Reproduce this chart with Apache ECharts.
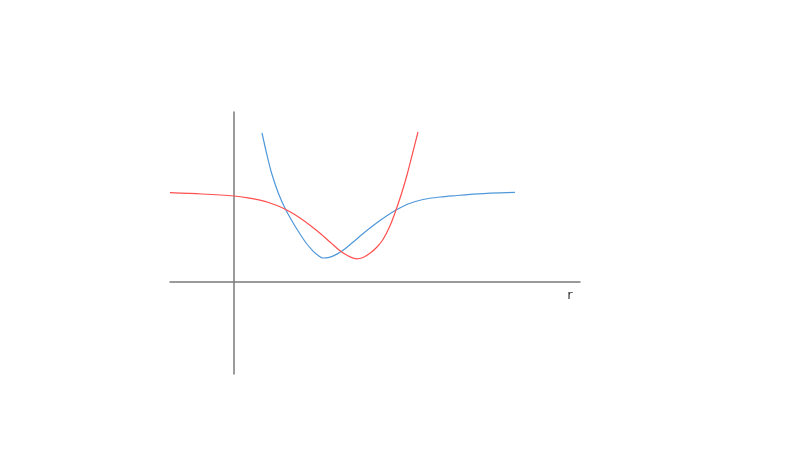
<!DOCTYPE html>
<html>
<head>
<meta charset="utf-8">
<script src="https://cdn.jsdelivr.net/npm/echarts@6/dist/echarts.min.js"></script>
<style>html,body{margin:0;padding:0;background:#fff;}#c{width:800px;height:450px;}</style>
</head>
<body>
<div id="c"></div>
<script>
// Blue curve (r, value)
const blueR = [0.70, 0.8125, 0.9425, 1.1075, 1.275, 1.45, 1.65, 1.8125, 1.9825, 2.10, 2.225, 2.35, 2.50, 2.65, 2.825, 3.025, 3.20, 3.40, 3.65, 3.85, 4.05, 4.35, 4.725, 5.15, 5.575, 5.975, 6.40, 7.025];
const blueV = [3.725, 3.225, 2.7125, 2.225, 1.8425, 1.525, 1.20, 0.9625, 0.7675, 0.6675, 0.60, 0.61, 0.66, 0.7425, 0.87, 1.0375, 1.1875, 1.35, 1.535, 1.675, 1.80, 1.95, 2.0625, 2.125, 2.1625, 2.195, 2.2225, 2.2425];
// Red curve (r, value)
const redR = [-1.6, -0.8, 0, 0.35, 0.65, 0.90, 1.15, 1.40, 1.65, 1.90, 2.15, 2.40, 2.65, 2.85, 3.0625, 3.225, 3.40, 3.575, 3.725, 3.90, 4.05, 4.20, 4.325, 4.45, 4.60];
const redV = [2.2325, 2.20, 2.15, 2.105, 2.045, 1.975, 1.8825, 1.755, 1.60, 1.42, 1.22, 1.00, 0.78, 0.655, 0.58, 0.6125, 0.7175, 0.875, 1.0625, 1.405, 1.80, 2.25, 2.675, 3.1625, 3.75];
const xName = 'r';

const chart = echarts.init(document.getElementById('c'), null, {renderer: 'canvas'});
const pair = (a, b) => a.map((v, i) => [v, b[i]]);
const axisLine = {show: true, onZero: true, lineStyle: {color: '#7a7a7a', width: 1.5}};
chart.setOption({
  backgroundColor: '#ffffff',
  animation: false,
  grid: {left: 170, right: 220, top: 112, bottom: 76, containLabel: false},
  xAxis: {
    type: 'value', min: -1.6, max: 8.65,
    name: xName, nameLocation: 'end', nameGap: -10,
    nameTextStyle: {color: '#333', fontSize: 13, fontFamily: 'DejaVu Sans',
                    align: 'center', verticalAlign: 'top', padding: [7, 0, 0, 0]},
    axisLine: axisLine, axisTick: {show: false}, axisLabel: {show: false}, splitLine: {show: false}
  },
  yAxis: {
    type: 'value', min: -2.3, max: 4.25,
    axisLine: axisLine, axisTick: {show: false}, axisLabel: {show: false}, splitLine: {show: false}
  },
  series: [
    {type: 'line', data: pair(blueR, blueV), smooth: 0.3, symbol: 'none',
     lineStyle: {color: '#4f98da', width: 1.2}},
    {type: 'line', data: pair(redR, redV), smooth: 0.3, symbol: 'none',
     lineStyle: {color: '#ff4f4f', width: 1.2}}
  ]
});
</script>
</body>
</html>
